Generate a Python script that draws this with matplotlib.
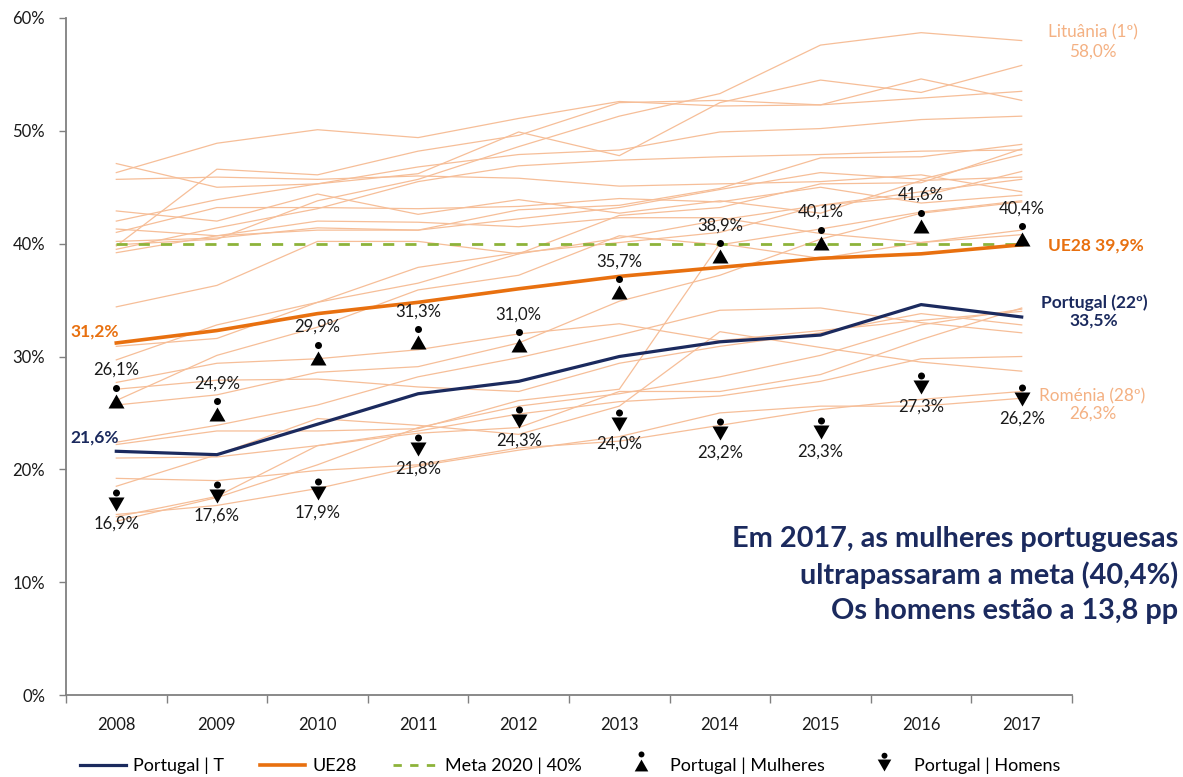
import matplotlib
matplotlib.use('Agg')
import matplotlib.pyplot as plt
from matplotlib.path import Path
from matplotlib.lines import Line2D

plt.rcParams['font.family'] = ['Lato', 'DejaVu Sans']

# ---------------- data ----------------
anos = ['2008', '2009', '2010', '2011', '2012', '2013', '2014', '2015', '2016', '2017']
portugal_total = [21.6, 21.3, 24.0, 26.7, 27.8, 30.0, 31.3, 31.9, 34.6, 33.5]
ue28 = [31.2, 32.3, 33.8, 34.8, 36.0, 37.1, 37.9, 38.7, 39.1, 39.9]
meta_2020 = [40, 40, 40, 40, 40, 40, 40, 40, 40, 40]
portugal_mulheres = [26.1, 24.9, 29.9, 31.3, 31.0, 35.7, 38.9, 40.1, 41.6, 40.4]
portugal_homens = [16.9, 17.6, 17.9, 21.8, 24.3, 24.0, 23.2, 23.3, 27.3, 26.2]

# other EU member states (thin lines)
belgica = [42.9, 42.0, 44.4, 42.6, 43.9, 42.7, 43.8, 42.7, 45.6, 45.9]
bulgaria = [27.1, 27.9, 28.0, 27.3, 26.9, 29.4, 30.9, 32.1, 33.8, 32.8]
chequia = [15.4, 17.5, 20.4, 23.7, 25.6, 26.7, 28.2, 30.1, 32.8, 34.2]
dinamarca = [39.2, 40.7, 41.2, 41.2, 43.0, 43.4, 44.9, 47.6, 47.7, 48.8]
alemanha = [27.7, 29.4, 29.8, 30.6, 32.0, 32.9, 31.4, 32.3, 33.2, 34.0]
estonia = [34.4, 36.3, 40.2, 40.2, 39.1, 42.5, 43.2, 45.3, 45.4, 48.4]
irlanda = [46.3, 48.9, 50.1, 49.4, 51.1, 52.6, 52.2, 52.3, 52.9, 53.5]
grecia = [25.7, 26.6, 28.6, 29.1, 31.2, 34.9, 37.2, 40.4, 42.7, 43.7]
espanha = [41.3, 40.7, 42.0, 41.9, 41.5, 42.3, 42.3, 40.9, 40.1, 41.2]
franca = [41.0, 43.2, 43.2, 43.1, 43.3, 44.0, 43.7, 45.0, 43.6, 44.3]
croacia = [18.5, 21.3, 24.5, 23.9, 23.1, 25.6, 32.2, 30.8, 29.5, 28.7]
italia = [19.2, 19.0, 19.9, 20.4, 21.9, 22.5, 23.9, 25.3, 26.2, 26.9]
chipre = [47.1, 45.0, 45.3, 46.2, 49.9, 47.8, 52.5, 54.5, 53.4, 55.8]
letonia = [26.1, 30.1, 32.6, 35.9, 37.2, 40.7, 39.9, 41.3, 42.8, 43.8]
lituania = [39.9, 40.4, 43.8, 45.7, 48.6, 51.3, 53.3, 57.6, 58.7, 58.0]
luxemburgo = [39.8, 46.6, 46.1, 48.2, 49.6, 52.5, 52.7, 52.3, 54.6, 52.7]
hungria = [22.4, 23.9, 25.7, 28.2, 29.9, 31.9, 34.1, 34.3, 33.0, 32.1]
malta = [21.0, 21.1, 22.1, 23.4, 24.9, 26.0, 26.5, 27.8, 29.8, 30.0]
paises_baixos = [40.2, 40.5, 41.4, 41.2, 42.2, 43.2, 44.8, 46.3, 45.7, 47.9]
austria = [22.2, 23.4, 23.4, 23.6, 26.1, 27.1, 40.0, 38.7, 40.1, 40.8]
polonia = [29.7, 32.8, 34.8, 36.5, 39.1, 40.5, 42.1, 43.4, 44.6, 45.7]
romenia = [16.0, 16.8, 18.3, 20.3, 21.7, 22.9, 25.0, 25.6, 25.6, 26.3]
eslovenia = [30.9, 31.6, 34.8, 37.9, 39.2, 40.1, 41.0, 43.4, 44.2, 46.4]
eslovaquia = [15.8, 17.6, 22.1, 23.2, 23.7, 26.9, 26.9, 28.4, 31.5, 34.3]
finlandia = [45.7, 45.9, 45.7, 46.0, 45.8, 45.1, 45.3, 45.5, 46.1, 44.6]
suecia = [42.0, 43.9, 45.3, 46.8, 47.9, 48.3, 49.9, 50.2, 51.0, 51.3]
reino_unido = [39.5, 41.4, 43.1, 45.5, 46.9, 47.4, 47.7, 47.9, 48.2, 48.3]

outros_paises = [belgica, bulgaria, chequia, dinamarca, alemanha, estonia, irlanda,
                 grecia, espanha, franca, croacia, italia, chipre, letonia, lituania,
                 luxemburgo, hungria, malta, paises_baixos, austria, polonia, romenia,
                 eslovenia, eslovaquia, finlandia, suecia, reino_unido]

# ---------------- styles ----------------
C_THIN = '#F6BE98'
C_UE = '#E8700F'
C_PT = '#1B2A5E'
C_META = '#8DB33A'
C_LIGHT = '#F4B183'


def person_path(up=True):
    codes = [Path.MOVETO, Path.LINETO, Path.LINETO, Path.CLOSEPOLY]
    if up:
        tri = Path([(-8, -7), (8, -7), (0, 7), (-8, -7)], codes)
        head = Path.circle((0, 13.0), 3.5)
    else:
        tri = Path([(-8, 7), (8, 7), (0, -7), (-8, 7)], codes)
        head = Path.circle((0, 11.5), 3.5)
    return Path.make_compound_path(tri, head)


def pct(v):
    return f'{v:.1f}%'.replace('.', ',')


mulher = person_path(True)
homem = person_path(False)
ms_mulher = 2 * 16.5 * 0.72
ms_homem = 2 * 15.0 * 0.72

fig = plt.figure(figsize=(11.83, 7.77), dpi=100)
ax = fig.add_axes([66 / 1183, 1 - 695 / 777, 1006 / 1183, 677 / 777])

x = list(range(len(anos)))

for serie in outros_paises:
    ax.plot(x, serie, color=C_THIN, lw=0.9, zorder=1)

ax.plot(x, meta_2020, color=C_META, lw=2, dashes=(4, 4), zorder=2)
ax.plot(x, ue28, color=C_UE, lw=2.6, zorder=3)
ax.plot(x, portugal_total, color=C_PT, lw=2.3, zorder=4)

ax.plot(x, portugal_mulheres, ls='none', marker=mulher, ms=ms_mulher,
        color='black', mew=0, zorder=5)
ax.plot(x, portugal_homens, ls='none', marker=homem, ms=ms_homem,
        color='black', mew=0, zorder=5)

for xi, v in zip(x, portugal_mulheres):
    ax.annotate(pct(v), (xi, v), xytext=(0, 22),
                textcoords='offset points', ha='center', va='center',
                fontsize=12, color='#1a1a1a', zorder=6)
for xi, v in zip(x, portugal_homens):
    ax.annotate(pct(v), (xi, v), xytext=(0, -14),
                textcoords='offset points', ha='center', va='center',
                fontsize=12, color='#1a1a1a', zorder=6)

# start labels
ax.annotate(pct(ue28[0]), (0, ue28[0]), xytext=(2, 8),
            textcoords='offset points', ha='right', va='center',
            fontsize=12.5, fontweight='bold', color=C_UE)
ax.annotate(pct(portugal_total[0]), (0, portugal_total[0]),
            xytext=(2, 10), textcoords='offset points', ha='right', va='center',
            fontsize=12.5, fontweight='bold', color=C_PT)

# end labels
ax.annotate('Lituânia (1º)\n' + pct(lituania[-1]), (9, lituania[-1]),
            xytext=(51, -1), textcoords='offset points', ha='center', va='center',
            fontsize=12.3, color=C_LIGHT, linespacing=1.2, annotation_clip=False)
ax.annotate('UE28 ' + pct(ue28[-1]), (9, ue28[-1]),
            xytext=(19, -0.5), textcoords='offset points', ha='left', va='center',
            fontsize=12.5, fontweight='bold', color=C_UE, annotation_clip=False)
ax.annotate('Portugal (22º)\n' + pct(portugal_total[-1]),
            (9, portugal_total[-1]), xytext=(52, 4), textcoords='offset points',
            ha='center', va='center', fontsize=12.5, fontweight='bold', color=C_PT,
            linespacing=1.1, annotation_clip=False)
ax.annotate('Roménia (28º)\n' + pct(romenia[-1]), (9, romenia[-1]),
            xytext=(51, -5), textcoords='offset points', ha='center', va='center',
            fontsize=12.3, color=C_LIGHT, linespacing=1.1, annotation_clip=False)

# big message
fig.text(1178 / 1183, 1 - 575 / 777,
         'Em 2017, as mulheres portuguesas\nultrapassaram a meta (40,4%)\nOs homens estão a 13,8 pp',
         ha='right', va='center', fontsize=20.8, fontweight='bold', color=C_PT,
         linespacing=1.4, multialignment='right')

# axes styling
ax.set_xlim(-0.5, 9.5)
ax.set_ylim(0, 60)
ax.set_yticks([0, 10, 20, 30, 40, 50, 60])
ax.set_yticklabels([f'{t}%' for t in [0, 10, 20, 30, 40, 50, 60]])
ax.set_xticks(x)
ax.set_xticklabels(anos)
ax.set_xticks([i - 0.5 for i in range(len(anos) + 1)], minor=True)
ax.tick_params(axis='x', which='major', length=0, pad=16, labelsize=12, labelcolor='#1a1a1a')
ax.tick_params(axis='x', which='minor', length=6, width=1, color='#808080')
ax.tick_params(axis='y', length=5, width=1, color='#808080', pad=10, labelsize=12,
               labelcolor='#1a1a1a')
for s in ['top', 'right']:
    ax.spines[s].set_visible(False)
for s in ['left', 'bottom']:
    ax.spines[s].set_color('#808080')
    ax.spines[s].set_linewidth(1.3)

# legend
handles = [
    Line2D([], [], color=C_PT, lw=2.3),
    Line2D([], [], color=C_UE, lw=2.6),
    Line2D([], [], color=C_META, lw=2, dashes=(3, 3)),
    Line2D([], [], ls='none', marker=mulher, ms=ms_mulher * 0.85, color='black', mew=0),
    Line2D([], [], ls='none', marker=homem, ms=ms_homem * 0.85, color='black', mew=0),
]
labels = ['Portugal | T', 'UE28', 'Meta 2020 | 40%', 'Portugal | Mulheres', 'Portugal | Homens']
fig.legend(handles, labels, loc='center', bbox_to_anchor=(0.482, 1 - 766 / 777), ncol=5,
           frameon=False, fontsize=13, handlelength=2.5, columnspacing=2.0,
           handletextpad=0.4, borderpad=0.2)

fig.savefig('out.png', dpi=100)
